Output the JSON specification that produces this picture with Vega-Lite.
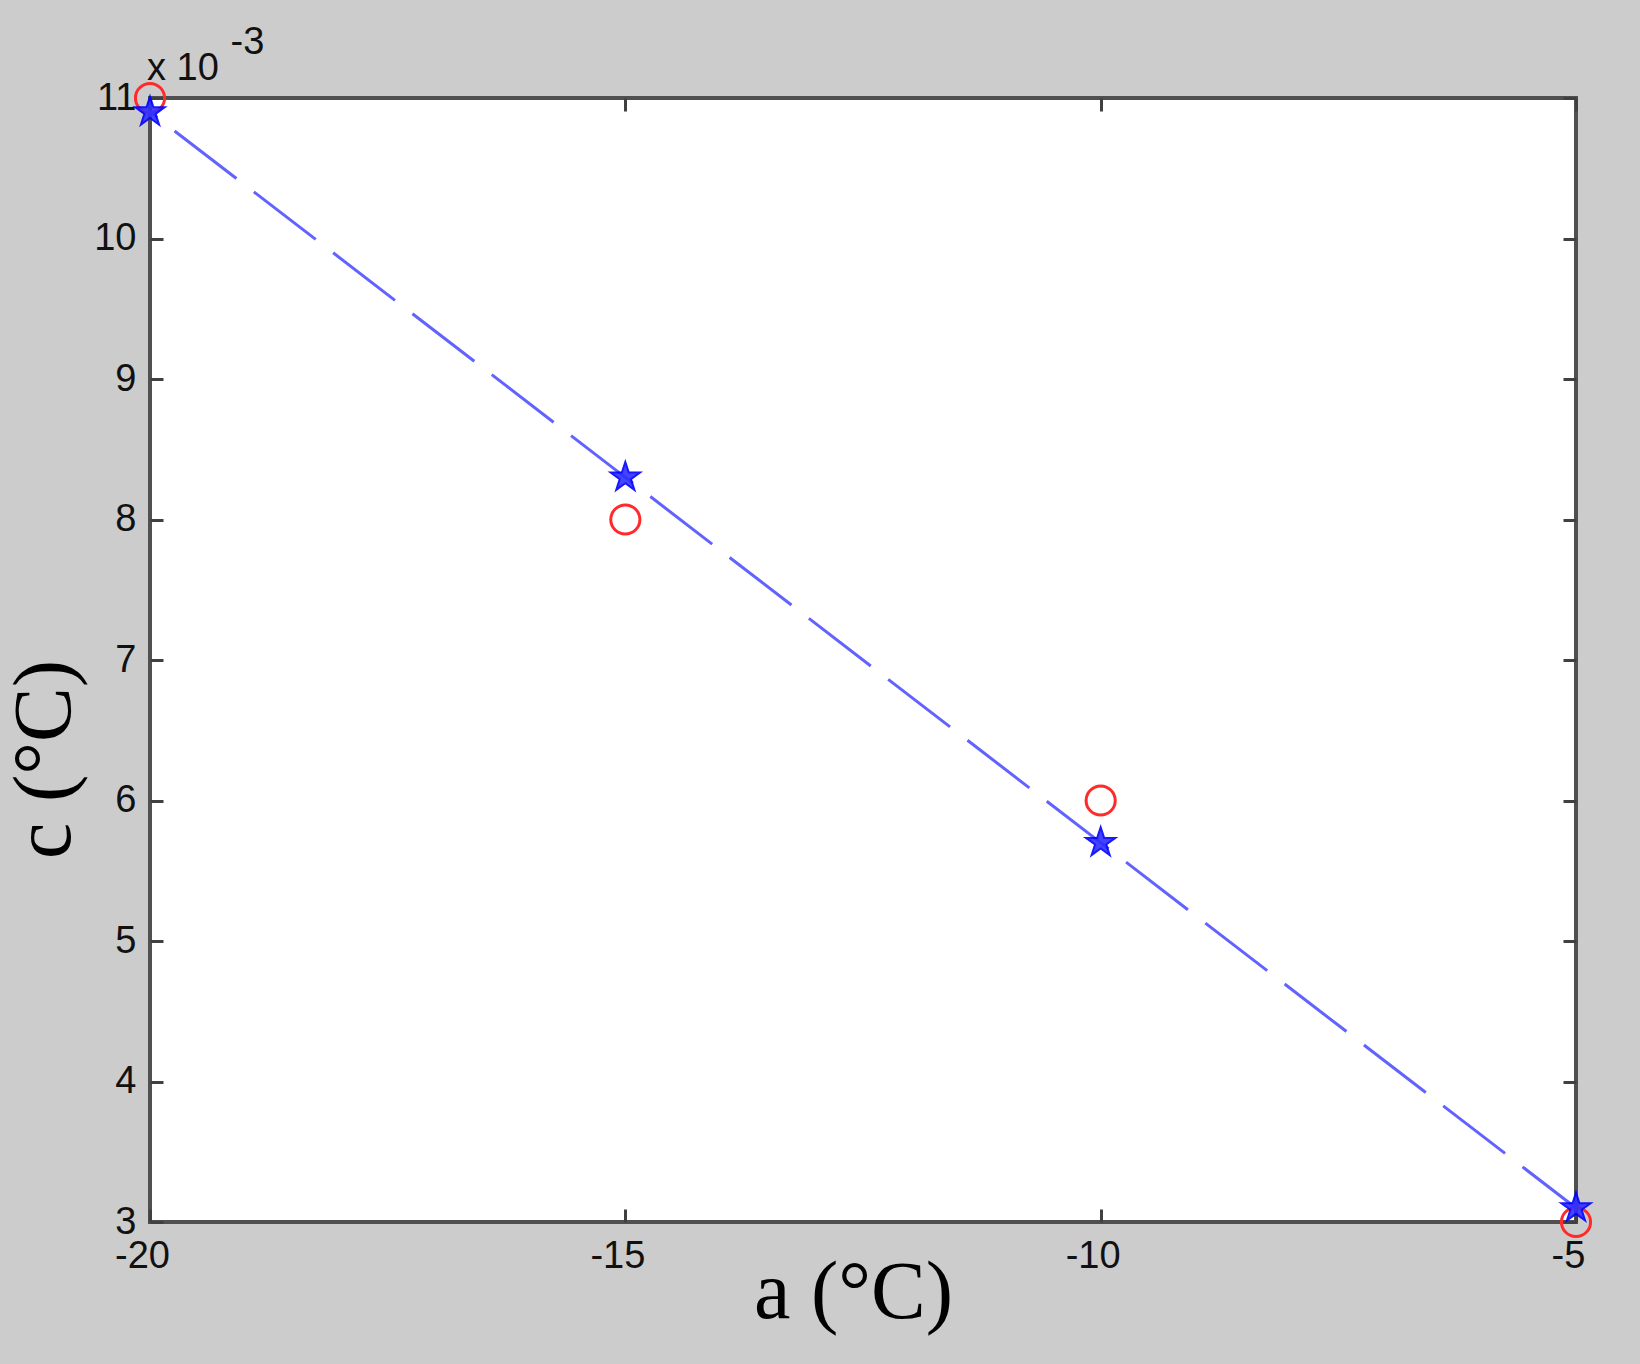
{
  "$schema": "https://vega.github.io/schema/vega-lite/v6.json",
  "autosize": {"type": "none"},
  "width": 1426,
  "height": 1124,
  "padding": {"left": 150, "top": 98, "right": 64, "bottom": 142},
  "background": "#cccccc",
  "title": {
    "text": ["\u200b\u2003\u2003\u2009-3", "x 10"],
    "anchor": "start",
    "frame": "group",
    "font": "Liberation Sans",
    "fontSize": 38,
    "fontWeight": "normal",
    "color": "#111111",
    "lineHeight": 26,
    "offset": 18,
    "dx": -3,
    "dy": 29
  },
  "config": {
    "view": {"fill": "white", "stroke": "#505050", "strokeWidth": 4},
    "axis": {
      "domain": false,
      "ticks": false,
      "tickSize": 0,
      "grid": true,
      "gridColor": "#404040",
      "gridWidth": 3,
      "gridOpacity": 1,
      "labelFont": "Liberation Sans",
      "labelFontSize": 38,
      "labelColor": "#111111",
      "titleColor": "#000000",
      "titleFontWeight": "normal"
    }
  },
  "datasets": {
    "pts": [
      {"a": -20, "c": 0.011, "kind": "measured"},
      {"a": -15, "c": 0.008, "kind": "measured"},
      {"a": -10, "c": 0.006, "kind": "measured"},
      {"a": -5, "c": 0.003, "kind": "measured"},
      {"a": -20, "c": 0.0109, "kind": "fit"},
      {"a": -15, "c": 0.0083, "kind": "fit"},
      {"a": -10, "c": 0.0057, "kind": "fit"},
      {"a": -5, "c": 0.0031, "kind": "fit"}
    ]
  },
  "data": {"name": "pts"},
  "encoding": {
    "x": {
      "field": "a", "type": "quantitative",
      "scale": {"domain": [-20, -5], "nice": false, "zero": false},
      "axis": {
        "values": [-20, -15, -10, -5],
        "labelExpr": "'-' + format(abs(datum.value), 'd')",
        "gridDash": [13, 1098, 13, 3000],
        "labelPadding": 15,
        "labelOffset": -8,
        "labelAlign": "center",
        "labelFlush": false,
        "title": "a (°C)",
        "titleFont": "Liberation Serif",
        "titleFontSize": 82,
        "titleX": 703,
        "titleY": 95,
        "titleAlign": "center",
        "titleBaseline": "alphabetic"
      }
    },
    "y": {
      "field": "c", "type": "quantitative",
      "scale": {"domain": [0.003, 0.011], "nice": false, "zero": false},
      "axis": {
        "values": [0.003, 0.004, 0.005, 0.006, 0.007, 0.008, 0.009, 0.010, 0.011],
        "labelExpr": "format(datum.value * 1000, 'd')",
        "gridDash": [13, 1400, 13, 3000],
        "labelPadding": 14,
        "labelBaseline": "middle",
        "labelFlush": false,
        "title": "c (°C)",
        "titleFont": "Liberation Serif",
        "titleFontSize": 82,
        "titleAngle": -90,
        "titleX": -81,
        "titleY": 661,
        "titleAlign": "center",
        "titleBaseline": "alphabetic"
      }
    }
  },
  "layer": [
    {
      "transform": [{"filter": "datum.kind === 'measured'"}],
      "mark": {"type": "point", "shape": "circle", "filled": false, "stroke": "#ff2a2a", "strokeWidth": 3, "size": 850, "opacity": 1, "clip": false}
    },
    {
      "transform": [{"filter": "datum.kind === 'fit'"}],
      "mark": {"type": "line", "stroke": "#6262ff", "strokeWidth": 3, "strokeDash": [78, 22], "strokeDashOffset": 69, "clip": false}
    },
    {
      "transform": [{"filter": "datum.kind === 'fit'"}],
      "mark": {"type": "point", "shape": "M0,-1L0.2245,-0.309L0.951,-0.309L0.363,0.118L0.588,0.809L0,0.382L-0.588,0.809L-0.363,0.118L-0.951,-0.309L-0.2245,-0.309Z", "filled": true, "fill": "#3030ff", "stroke": "#0000ff", "strokeWidth": 2, "size": 950, "opacity": 0.9, "clip": false}
    }
  ]
}
